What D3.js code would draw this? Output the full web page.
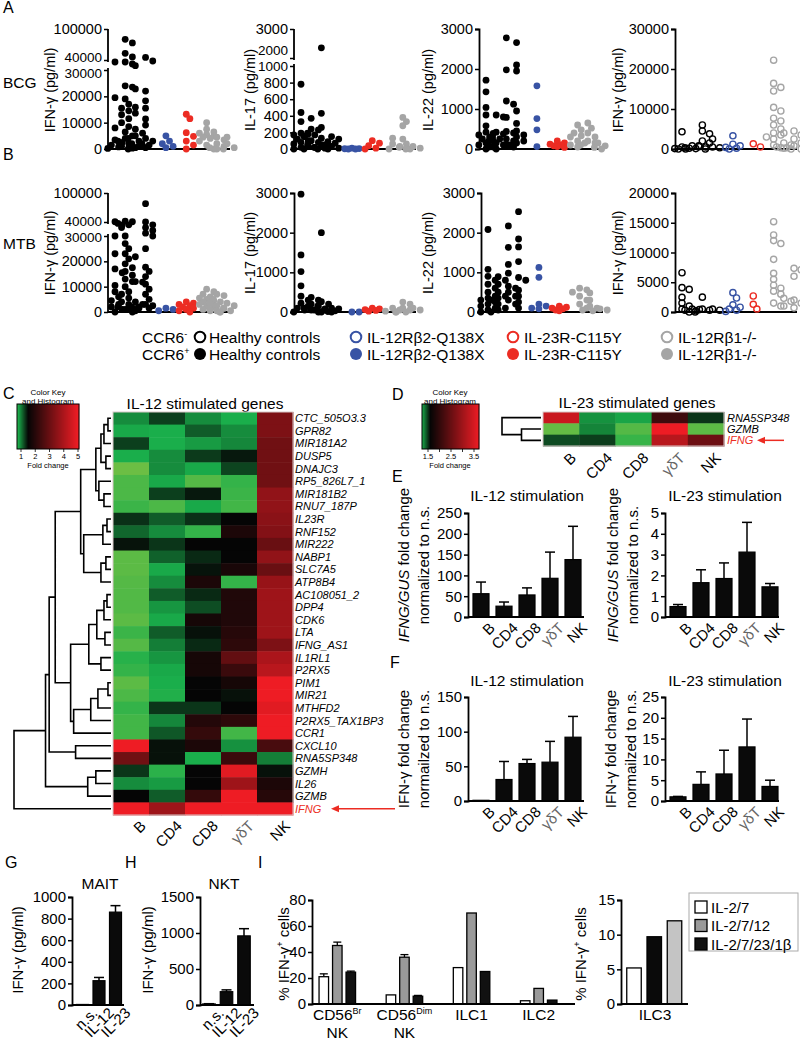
<!DOCTYPE html>
<html><head><meta charset="utf-8">
<script src="https://cdn.jsdelivr.net/npm/d3@7/dist/d3.min.js"></script>
<style>html,body{margin:0;padding:0;background:#fff;}</style>
</head><body>
<script>
// ================= DATA =================
const scatterGroups = ["h1","h2","h3","h4","blue","red","g1","g2","g3"];
const slotOrder = ["h1","h2","h3","h4","s1","blue","s2","red","s3","g1","g2","g3"];
const groupColors = ["#000000","#000000","#000000","#000000","#3853a4","#ec2c23","#a5a5a5","#a5a5a5","#a5a5a5"];

const bcgIFNg = [
  [38000,19500,8000,3500,2500,1500,800,200],
  [80000,73000,53000,46000,38000,36000,24000,23500,19000,17000,15500,14500,13000,11500,10000,8500,6500,5000,4000,3000,2000,1000,300],
  [34300,22800,15900,13600,7500,6000,5000,4000,3000,2000,1000,500,0],
  [45000,39000,22000,18300,15500,11400,9100,4000,3000,2000,1500,1000,500],
  [5000,3000,2000,1000,500],
  [13200,11500,6200,4800,3000,1500,0],
  [10000,7500,6500,6000,5500,5000,4500,4000,3000,1500,0],
  [4500,3500,2000,1000,500,0],
  [4500,2000,500,0]
];
const bcgIL17 = [
  [780,440,330,190,180,170,150,120,100,80,60,40,20,0],
  [370,240,230,190,170,150,100,80,50,20,0],
  [2350,430,260,130,50,30,20,10,0],
  [150,120,90,70,50,30,10,0],
  [10,5,3,0,0],
  [100,70,40,10,0],
  [130,60,30,0],
  [380,330,280,120,60,20,0],
  [30,10,0]
];
const bcgIL22 = [
  [1720,1430,1040,850,580,420,390,350,300,250,200,150,100,50,0],
  [850,800,420,380,300,250,200,150,100,50,0],
  [2780,1980,1200,1120,790,440,400,250,200,100,50],
  [2660,2100,1950,950,640,450,350,300,200,150,100],
  [1580,760,480,60],
  [200,150,120,100,80,60,40],
  [600,480,400,330,300,200,150,100,50],
  [650,520,400,300,200,150,100],
  [150,80,40,0]
];
const bcgIFNgNeg = [
  [4300,500,200,100,0,0],
  [800,600,300,100],
  [6000,4500,3800,2000,1500,800,500],
  [2500,500,300,0],
  [3300,1200,800,400,200,0],
  [1300,500],
  [22200,16400,15400,14500,10400,9500,7700,7000,6000,5000,4000,3500,3000,2500,1000,300],
  [4000,1500,1000,500,200,0],
  [4500,3500,2500,1500,800,300,0]
];
const mtbIFNg = [
  [40500,38000,30000,23000,17000,15500,10500,8000,6000,4500,3000,2000,1000,0],
  [42000,40500,39000,38000,36000,30000,27000,25000,23000,21000,19000,17500,16000,14500,13000,12000,10000,8000,7000,5500,4000,3000,2000,1000,0],
  [21800,12000,11800,4000,3000,2000,1500,1000,500],
  [78000,40000,38000,36000,34000,32000,30000,25000,17700,16000,14000,11000,9000,7000,5000,3000,2500,2000,1500],
  [1500,1000,500],
  [4000,3500,3000,2500,2000,1500,1000,500,0],
  [9000,8000,7000,6000,5500,5000,4500,4000,3500,3000,2500,2000,1000,500],
  [7000,6500,5000,4000,3500,2500,1500,1000,500,0],
  [3500,2500,1500,500,0]
];
const mtbIL17 = [
  [2970,1440,1020,660,400,300,220,150,100,50,0],
  [370,300,200,150,100,50,0],
  [2000,260,200,150,80,50,0],
  [100,80,50,30,10,0],
  [0,0],
  [100,80,60,40,20],
  [100,50,20,0],
  [250,200,100,50,0],
  [100,50,0]
];
const mtbIL22 = [
  [2080,1075,900,800,700,600,500,400,350,300,250,200,150,100,50,0],
  [890,800,700,500,400,350,300,200,100,50,0],
  [2170,1630,1200,980,650,600,500,400,300,200],
  [2530,1840,1640,1270,870,800,550,400,250,100],
  [1125,875,200,150,100,80],
  [150,120,100,80,50,30],
  [600,560,500,400,300,200,100],
  [480,300,150,100,50],
  [80,50,30]
];
const mtbIFNgNeg = [
  [6600,4090,3800,2460,1500,1000,500,0],
  [500,400,300,200],
  [2500,500,300,0],
  [500,300],
  [3250,2350,1200,800,500,300,100],
  [2690,1290,500],
  [15180,12940,12000,11500,8850,6500,5500,4500,4000,3500,3000,1500,1000],
  [2300,1800,1000],
  [7340,7100,6000,2000,1500,700]
];
const ticksIFNgBreak = [0,10000,20000,30000,40000,100000];
const ticksIL17Break = [0,200,400,600,800,1000,2000,3000];
const ticks3000 = [0,1000,2000,3000];
const ticks30000 = [0,10000,20000,30000];
const ticks20000 = [0,5000,10000,15000,20000];

const legendLabels = ["Healthy controls","IL-12Rβ2-Q138X","IL-23R-C115Y","IL-12Rβ1-/-"];
const legendColors = ["#000000","#3853a4","#ec2c23","#a5a5a5"];

const heatCols = ["B","CD4","CD8","γδT","NK"];
const genesC = ["CTC_505O3.3","GPR82","MIR181A2","DUSP5","DNAJC3","RP5_826L7_1","MIR181B2","RNU7_187P","IL23R","RNF152","MIR222","NABP1","SLC7A5","ATP8B4","AC108051_2","DPP4","CDK6","LTA","IFNG_AS1","IL1RL1","P2RX5","PIM1","MIR21","MTHFD2","P2RX5_TAX1BP3","CCR1","CXCL10","RNA5SP348","GZMH","IL26","GZMB","IFNG"];
const heatB   = [0.94,0.82,1.26,0.8,0.55,0.65,0.65,0.7,1.32,1.1,1.44,0.6,0.6,0.62,0.63,0.63,0.6,0.7,0.62,0.76,0.72,0.6,0.65,0.72,0.68,0.68,5,3.1,1.3,0.94,1.5,5];
const heatCD4 = [1.26,0.8,0.8,0.94,0.94,0.82,1.26,0.65,1.14,0.94,1.3,1.12,0.82,0.94,1.14,0.9,0.82,1.14,1.0,0.9,0.82,0.8,0.78,1.3,0.96,1.16,1.45,1.45,0.75,0.88,1.14,3.8];
const heatCD8 = [0.94,1.14,0.88,1.28,0.82,0.62,1.42,0.82,1.32,0.72,1.5,1.35,1.44,1.85,1.35,1.2,1.75,1.45,1.35,1.75,1.75,1.5,1.5,1.3,1.95,2.2,1.85,0.8,1.5,1.5,2.2,5];
const heatGD  = [0.8,0.94,0.96,1.42,1.24,0.72,0.7,0.68,1.5,1.85,1.5,1.5,1.8,0.72,1.9,1.9,1.9,2.0,2.1,2.9,2.3,1.75,1.45,1.5,2.1,0.68,0.92,2.3,4.8,3.8,5,5];
const heatNK  = [3.3,3.3,3.1,3.1,3.1,3.1,3.6,3.6,3.5,3.4,3.0,3.6,3.0,3.7,3.8,3.8,3.8,3.8,3.3,4.0,4.2,5,5,4.8,5,5,2.5,1.0,1.45,1.85,2.0,5];
// dendrogram: [merge distance, left, right]; leaves are row indices
const dendroC = [8.0,
  [5.4,
    [5.1,
      [4.6,
        [2.5,
          [1.25,
            [0.83, [0.58, [0.25, 0, 1], 2], [0.42, 3, 4]],
            [1.0, 5, [0.58, 6, 7]]],
          [2.25,
            [0.67, [0.33, 8, 9], 10],
            [0.83, [0.42, 11, 12], 13]]],
        [3.33,
          [1.83,
            [1.17, [0.58, [0.33, 14, 15], 16], [0.5, 17, 18]],
            [0.83, 19, 20]],
          [3.08,
            [1.67, [1.08, [0.25, 21, 22], 23], 24],
            25]]],
      [2.92, 26, 27]],
    [1.92, [1.25, 28, 29], 30]],
  31];
const keyTicksC = [1,2,3,4,5];

const genesD = ["RNA5SP348","GZMB","IFNG"];
const heatDB   = [3.38,1.06,1.45];
const heatDCD4 = [1.3,1.33,1.48];
const heatDCD8 = [1.26,1.1,1.17];
const heatDGD  = [2.13,3.72,3.23];
const heatDNK  = [1.5,1.08,2.55];
const dendroD = [1.6, 0, [0.8, 1, 2]];
const keyTicksD = [1.5,2,2.5,3,3.5];
const keyLabelsD = [1.5,2.5,3.5];

const barCats = ["B","CD4","CD8","γδT","NK"];
const e12Vals = [56,26,53,93,138];   const e12Sem = [28,10,17,63,80];
const e23Vals = [0.5,1.65,1.85,3.12,1.45]; const e23Sem = [0.1,0.62,0.75,1.43,0.16];
const f12Vals = [1,31,54,56,92];     const f12Sem = [0,26,6,30,30];
const f23Vals = [1,4,6.5,13,3.5];    const f23Sem = [0.1,3,5.7,6.7,1.5];
const e12Ticks = [0,50,100,150,200,250];
const e23Ticks = [0,1,2,3,4,5];
const f12Ticks = [0,50,100,150];
const f23Ticks = [0,5,10,15,20,25];

const ghCats = ["n.s.","IL-12","IL-23"];
const maitVals = [5,225,860]; const maitSem = [0,30,60];
const nktVals = [15,185,960]; const nktSem = [3,25,100];
const maitTicks = [0,200,400,600,800,1000];
const nktTicks = [0,500,1000,1500];

const iCats = ["CD56Br NK","CD56Dim NK","ILC1","ILC2"];
const iCatMain = ["CD56","CD56","ILC1","ILC2"];
const iCatSup = ["Br","Dim","",""];
const iCatLine2 = ["NK","NK","",""];
const iSeries = ["IL-2/7","IL-2/7/12","IL-2/7/23/1β"];
const iSeriesFill = ["#ffffff","#9a9a9a","#111111"];
const iIL27 = [21,7,28,2.5];      const iIL27Sem = [2.2,0,0,0];
const iIL2712 = [45,36,70,12];    const iIL2712Sem = [2.6,2,0,0];
const iIL2723 = [24.5,6,25,3];    const iIL2723Sem = [0.8,0.6,0,0];
const iTicks = [0,20,40,60,80];
const ilc3Vals = [5.2,9.7,12];
const ilc3Fill = ["#ffffff","#0a0a0a","#c4c4c4"];
const ilc3Ticks = [0,5,10,15];

// ================= DRAWING =================
const FONT = "'Liberation Sans', Arial, Helvetica, sans-serif";
const svg = d3.select("body").append("svg").attr("width",800).attr("height",1040)
  .attr("font-family",FONT).style("display","block");

function addText(x,y,s,size,o={}) {
  const t = svg.append("text").attr("x",x).attr("y",y).attr("font-size",size).attr("fill",o.fill||"#000").text(s);
  if (o.anchor) t.attr("text-anchor",o.anchor);
  if (o.italic) t.attr("font-style","italic");
  return t;
}
function vText(cx,cy,size) {
  return svg.append("text").attr("transform",`translate(${cx},${cy}) rotate(-90)`)
    .attr("text-anchor","middle").attr("dy","0.35em").attr("font-size",size);
}
function styleAxis(g,size) {
  g.attr("font-family",null).attr("font-size",null);
  g.selectAll("text").attr("font-size",size).attr("fill","#000").attr("font-family",FONT);
  g.select(".domain").attr("stroke","#000").attr("stroke-width",1.8);
  g.selectAll(".tick line").attr("stroke","#000").attr("stroke-width",1.5);
}

// panel letters
[["A",3,13],["B",3,160],["C",3,399],["D",392,400],["E",392,482],["F",390,668],["G",5,868],["H",125,868],["I",258,868]]
  .forEach(([s,x,y]) => addText(x,y,s,16));
addText(3,88,"BCG",15.5);
addText(3,249,"MTB",15.5);

// ---- scatter panels ----
function swarm(values,y,cx) {
  const placed = [];
  const offs = [0,3.6,-3.6,7.2,-7.2];
  return values.slice().sort((a,b)=>b-a).map(v => {
    const py = y(v);
    let best = 0, bestD = -1;
    for (const o of offs) {
      let md = Infinity;
      for (const p of placed) { const d = Math.hypot(p.x-(cx+o), p.y-py); if (d < md) md = d; }
      if (md >= 5.4) { best = o; break; }
      if (md > bestD) { bestD = md; best = o; }
    }
    const pt = {x:cx+best, y:py};
    placed.push(pt);
    return pt;
  });
}
const scatterPanels = [
  {data:bcgIFNg, ax:108, dom:[0,30000,40000,100000], rng:[149,70,60,29], ticks:ticksIFNgBreak, brk:[57,73], label:"IFN-γ (pg/ml)", lx:50, ly:90},
  {data:bcgIL17, ax:294, dom:[0,1000,2000,3000], rng:[149,66,58,29], ticks:ticksIL17Break, brk:[50,66.5], label:"IL-17 (pg/ml)", lx:250, ly:90},
  {data:bcgIL22, ax:479, dom:[0,3000], rng:[149,29], ticks:ticks3000, label:"IL-22 (pg/ml)", lx:428, ly:90},
  {data:bcgIFNgNeg, ax:675, dom:[0,30000], rng:[149,29], ticks:ticks30000, open:true, label:"IFN-γ (pg/ml)", lx:618, ly:90},
  {data:mtbIFNg, ax:108, dom:[0,30000,40000,100000], rng:[312,236,222,193], ticks:ticksIFNgBreak, brk:[221,237], label:"IFN-γ (pg/ml)", lx:50, ly:253},
  {data:mtbIL17, ax:294, dom:[0,3000], rng:[312,193], ticks:ticks3000, label:"IL-17 (pg/ml)", lx:250, ly:253},
  {data:mtbIL22, ax:481, dom:[0,3000], rng:[312,193], ticks:ticks3000, label:"IL-22 (pg/ml)", lx:428, ly:253},
  {data:mtbIFNgNeg, ax:675, dom:[0,20000], rng:[312,193], ticks:ticks20000, open:true, label:"IFN-γ (pg/ml)", lx:618, ly:253}
];
scatterPanels.forEach(p => {
  const y = d3.scaleLinear().domain(p.dom).range(p.rng);
  const x = d3.scalePoint().domain(slotOrder).range([p.ax+7, p.ax+119]);
  const ag = svg.append("g").attr("transform",`translate(${p.ax},0)`)
    .call(d3.axisLeft(y).tickValues(p.ticks).tickSize(4).tickPadding(2).tickFormat(d3.format("d")));
  styleAxis(ag,14.5);
  if (p.brk) {
    ag.select(".domain").remove();
    const n = p.rng.length;
    svg.append("line").attr("x1",p.ax).attr("x2",p.ax).attr("y1",p.rng[n-1]).attr("y2",p.rng[2]+2).attr("stroke","#000").attr("stroke-width",1.8);
    svg.append("line").attr("x1",p.ax).attr("x2",p.ax).attr("y1",p.rng[1]-2).attr("y2",p.rng[0]).attr("stroke","#000").attr("stroke-width",1.8);
    // keep the two labels at the break readable
    ag.selectAll(".tick").each(function(d) {
      if (d === p.dom[2]) d3.select(this).select("text").attr("y", p.brk[0] - y(d)).attr("font-size",13.5);
      if (d === p.dom[1]) d3.select(this).select("text").attr("y", p.brk[1] - y(d)).attr("font-size",13.5);
    });
  }
  svg.append("line").attr("x1",p.ax).attr("x2",p.ax+122).attr("y1",p.rng[0]).attr("y2",p.rng[0]).attr("stroke","#000").attr("stroke-width",1.8);
  vText(p.lx,p.ly,14.5).text(p.label);
  scatterGroups.forEach((gk,i) => {
    const pts = swarm(p.data[i], y, x(gk));
    svg.append("g").selectAll("circle").data(pts).join("circle")
      .attr("cx",d=>d.x).attr("cy",d=>d.y)
      .attr("r", p.open ? 3.1 : 3.4)
      .attr("fill", p.open ? "none" : groupColors[i])
      .attr("stroke", p.open ? groupColors[i] : "none")
      .attr("stroke-width", 1.4);
  });
});

// ---- top legend ----
[[337,true],[354,false]].forEach(([cy,open]) => {
  const t = svg.append("text").attr("x",142).attr("y",cy+5.5).attr("font-size",15.5);
  t.append("tspan").text("CCR6");
  t.append("tspan").attr("font-size",9).attr("dy",-6).text(open ? "-" : "+");
  const cxs = [200,356,513,667];
  legendLabels.forEach((lab,i) => {
    svg.append("circle").attr("cx",cxs[i]).attr("cy",cy).attr("r",open?5.3:6)
      .attr("fill",open?"none":legendColors[i]).attr("stroke",open?legendColors[i]:"none").attr("stroke-width",2);
    addText(cxs[i]+(i===0?9:11),cy+5.5,lab,15.5);
  });
});

// ---- heatmap helpers ----
function drawDendro(tree,yOf,xs) {
  const path = d3.path();
  function rec(n) {
    if (typeof n === "number") return {x:xs(0), y:yOf(n)};
    const A = rec(n[1]), B = rec(n[2]);
    const x = xs(n[0]);
    path.moveTo(A.x,A.y); path.lineTo(x,A.y); path.lineTo(x,B.y); path.lineTo(B.x,B.y);
    return {x, y:(A.y+B.y)/2};
  }
  rec(tree);
  svg.append("path").attr("d",path.toString()).attr("fill","none").attr("stroke","#000").attr("stroke-width",1.6);
}
function drawKey(x0,x1,y0,y1,keyX,color,ticks,labels,cx) {
  addText(cx,395,"Color Key",8,{anchor:"middle"});
  addText(cx,404,"and Histogram",8,{anchor:"middle"});
  for (let px=x0; px<x1; px++) {
    svg.append("rect").attr("x",px).attr("y",y0).attr("width",1.2).attr("height",y1-y0).attr("fill",color(keyX.invert(px+0.5)));
  }
  svg.append("rect").attr("x",x0).attr("y",y0).attr("width",x1-x0).attr("height",y1-y0).attr("fill","none").attr("stroke","#000").attr("stroke-width",1);
  ticks.forEach(v => svg.append("line").attr("x1",keyX(v)).attr("x2",keyX(v)).attr("y1",y1).attr("y2",y1+3).attr("stroke","#000").attr("stroke-width",0.8));
  labels.forEach(v => addText(keyX(v),459,String(v),7.5,{anchor:"middle"}));
  addText(cx,468,"Fold change",7.5,{anchor:"middle"});
}
function arrow(x1,x2,y) {
  svg.append("line").attr("x1",x1).attr("x2",x2+6).attr("y1",y).attr("y2",y).attr("stroke","#ec2c23").attr("stroke-width",1.5);
  svg.append("path").attr("d",`M${x2},${y} L${x2+8},${y-3.5} L${x2+8},${y+3.5} Z`).attr("fill","#ec2c23");
}
function colLabels(xScale,yTop) {
  heatCols.forEach(c => {
    svg.append("text").attr("transform",`translate(${xScale(c)+xScale.bandwidth()/2+8},${yTop}) rotate(-45)`)
      .attr("text-anchor","end").attr("dy","0.75em").attr("font-size",15)
      .attr("fill", c==="γδT" ? "#666" : "#000").text(c);
  });
}

// ---- Panel C ----
const colorC = d3.scaleLinear().domain([0.5,0.8,1.5,5]).range(["#7dc142","#1aae4b","#050505","#ee1c24"]).clamp(true);
const keyXC = d3.scaleLinear().domain([1,5]).range([21,78]);
drawKey(17,79,404,449,keyXC,colorC,keyTicksC,keyTicksC,48);
addText(205,409,"IL-12 stimulated genes",15.5,{anchor:"middle"});
const xC = d3.scaleBand().domain(heatCols).range([113,293]);
const yC = d3.scaleBand().domain(genesC).range([412,815]);
const heatCData = [heatB,heatCD4,heatCD8,heatGD,heatNK];
heatCols.forEach((c,j) => {
  genesC.forEach((g,i) => {
    svg.append("rect").attr("x",xC(c)).attr("y",yC(g)).attr("width",xC.bandwidth()+0.5).attr("height",yC.bandwidth()+0.5)
      .attr("fill",colorC(heatCData[j][i]));
  });
});
svg.append("rect").attr("x",113).attr("y",412).attr("width",180).attr("height",403).attr("fill","none").attr("stroke","#d8c8c8").attr("stroke-width",1);
genesC.forEach(g => {
  addText(295,yC(g)+yC.bandwidth()/2+4,g,11,{italic:true,fill:g==="IFNG"?"#ec2c23":"#000"});
});
arrow(395,331,yC("IFNG")+yC.bandwidth()/2);
drawDendro(dendroC, i => yC(genesC[i])+yC.bandwidth()/2, d3.scaleLinear().domain([0,8]).range([111,14]));
colLabels(xC,819);

// ---- Panel D ----
const colorD = d3.scaleLinear().domain([1.0,1.24,1.6,3.72]).range(["#7dc142","#1aae4b","#050505","#ee1c24"]).clamp(true);
const keyXD = d3.scaleLinear().domain([1.5,3.5]).range([428,474]);
drawKey(422,479,404,449,keyXD,colorD,keyTicksD,keyLabelsD,450);
addText(637,408,"IL-23 stimulated genes",15.5,{anchor:"middle"});
const xD = d3.scaleBand().domain(heatCols).range([543,724]);
const yD = d3.scaleBand().domain(genesD).range([412,446]);
const heatDData = [heatDB,heatDCD4,heatDCD8,heatDGD,heatDNK];
heatCols.forEach((c,j) => {
  genesD.forEach((g,i) => {
    svg.append("rect").attr("x",xD(c)).attr("y",yD(g)).attr("width",xD.bandwidth()+0.5).attr("height",yD.bandwidth()+0.5)
      .attr("fill",colorD(heatDData[j][i]));
  });
});
svg.append("rect").attr("x",543).attr("y",412).attr("width",181).attr("height",34).attr("fill","none").attr("stroke","#d8c8c8").attr("stroke-width",1);
genesD.forEach(g => addText(727,yD(g)+yD.bandwidth()/2+4,g,11,{italic:true,fill:g==="IFNG"?"#ec2c23":"#000"}));
arrow(784,757,yD("IFNG")+yD.bandwidth()/2);
drawDendro(dendroD, i => yD(genesD[i])+yD.bandwidth()/2, d3.scaleLinear().domain([0,1.6]).range([541,502]));
colLabels(xD,451);

// ---- bar charts ----
function drawBars(o) {
  const y = d3.scaleLinear().domain([0,o.max]).range([o.y0,o.y1]);
  const x = d3.scalePoint().domain(o.cats).range([o.ax+o.first, o.ax+o.first+o.step*(o.cats.length-1)]);
  o.cats.forEach((c,i) => {
    const v = o.vals[i], e = o.sems[i], cx = x(c);
    if (e > 0) {
      svg.append("line").attr("x1",cx).attr("x2",cx).attr("y1",y(v)).attr("y2",y(v+e)).attr("stroke","#000").attr("stroke-width",1.5);
      svg.append("line").attr("x1",cx-o.cap/2).attr("x2",cx+o.cap/2).attr("y1",y(v+e)).attr("y2",y(v+e)).attr("stroke","#000").attr("stroke-width",1.5);
    }
    svg.append("rect").attr("x",cx-o.bw/2).attr("y",y(v)).attr("width",o.bw).attr("height",o.y0-y(v))
      .attr("fill",o.fill||"#0a0a0a").attr("stroke","#000").attr("stroke-width",1.2);
  });
  const ag = svg.append("g").attr("transform",`translate(${o.ax},0)`)
    .call(d3.axisLeft(y).tickValues(o.ticks).tickSize(4).tickPadding(2).tickFormat(d3.format("d")));
  styleAxis(ag,15);
  svg.append("line").attr("x1",o.ax).attr("x2",o.end).attr("y1",o.y0).attr("y2",o.y0).attr("stroke","#000").attr("stroke-width",1.8);
  o.cats.forEach(c => {
    svg.append("text").attr("transform",`translate(${x(c)+o.lx},${o.y0+o.ly}) rotate(-45)`)
      .attr("text-anchor","end").attr("dy","0.75em").attr("font-size",15)
      .attr("fill", c==="γδT" ? "#666" : "#000").text(c);
  });
  if (o.title) addText(o.tx,o.ty,o.title,15.5,{anchor:"middle"});
}
function foldLabel(x1,x2,cy,italicPart,rest,line2) {
  const t = vText(x1,cy,15);
  if (italicPart) t.append("tspan").attr("font-style","italic").text(italicPart);
  t.append("tspan").text(rest);
  vText(x2,cy,15).text(line2);
}
drawBars({cats:barCats, vals:e12Vals, sems:e12Sem, max:250, ticks:e12Ticks, ax:468, y0:617, y1:513, first:13, step:23, bw:16, cap:10, end:584, lx:7, ly:4, title:"IL-12 stimulation", tx:527, ty:501});
drawBars({cats:barCats, vals:e23Vals, sems:e23Sem, max:5, ticks:e23Ticks, ax:665, y0:617, y1:513, first:13, step:23, bw:16, cap:10, end:779, lx:7, ly:4, title:"IL-23 stimulation", tx:725, ty:501});
drawBars({cats:barCats, vals:f12Vals, sems:f12Sem, max:150, ticks:f12Ticks, ax:468, y0:801, y1:697, first:13, step:23, bw:16, cap:10, end:584, lx:7, ly:4, title:"IL-12 stimulation", tx:527, ty:686});
drawBars({cats:barCats, vals:f23Vals, sems:f23Sem, max:25, ticks:f23Ticks, ax:665, y0:801, y1:697, first:13, step:23, bw:16, cap:10, end:779, lx:7, ly:4, title:"IL-23 stimulation", tx:725, ty:686});
foldLabel(404,424,565,"IFNG/GUS"," fold change","normalized to n.s.");
foldLabel(613,633,565,"IFNG/GUS"," fold change","normalized to n.s.");
foldLabel(404,424,749,null,"IFN-γ fold change","normailzed to n.s.");
foldLabel(611,631,749,null,"IFN-γ fold change","normailzed to n.s.");

// ---- G & H ----
drawBars({cats:ghCats, vals:maitVals, sems:maitSem, max:1000, ticks:maitTicks, ax:72, y0:1005, y1:897, first:10.5, step:16.5, bw:12, cap:10, end:124, lx:8, ly:1, title:"MAIT", tx:100, ty:889});
drawBars({cats:ghCats, vals:nktVals, sems:nktSem, max:1500, ticks:nktTicks, ax:200, y0:1005, y1:897, first:9, step:17.5, bw:12.5, cap:10, end:254, lx:8, ly:1, title:"NKT", tx:224, ty:889});
vText(18,950,15).text("IFN-γ (pg/ml)");
vText(148,950,15).text("IFN-γ (pg/ml)");

// ---- I ----
function pctLabel(cx,cy) {
  const t = vText(cx,cy,15);
  t.append("tspan").text("% IFN-γ");
  t.append("tspan").attr("font-size",9).attr("dy",-6).text("+");
  t.append("tspan").attr("dy",6).text(" cells");
}
{
  const y = d3.scaleLinear().domain([0,80]).range([1004,900]);
  const xg = d3.scalePoint().domain(iCats).range([337.3,538.7]);
  const xs = d3.scalePoint().domain(iSeries).range([-13.5,13.5]);
  const vals = [iIL27,iIL2712,iIL2723], sems = [iIL27Sem,iIL2712Sem,iIL2723Sem];
  iCats.forEach((c,i) => {
    iSeries.forEach((s,k) => {
      const cx = xg(c)+xs(s), v = vals[k][i], e = sems[k][i];
      if (e > 0) {
        svg.append("line").attr("x1",cx).attr("x2",cx).attr("y1",y(v)).attr("y2",y(v+e)).attr("stroke","#000").attr("stroke-width",1.3);
        svg.append("line").attr("x1",cx-4).attr("x2",cx+4).attr("y1",y(v+e)).attr("y2",y(v+e)).attr("stroke","#000").attr("stroke-width",1.3);
      }
      svg.append("rect").attr("x",cx-4.75).attr("y",y(v)).attr("width",9.5).attr("height",1004-y(v))
        .attr("fill",iSeriesFill[k]).attr("stroke","#000").attr("stroke-width",1.3);
    });
    const t = svg.append("text").attr("x",xg(c)).attr("y",1020).attr("text-anchor","middle").attr("font-size",15.5);
    t.append("tspan").text(iCatMain[i]);
    if (iCatSup[i]) t.append("tspan").attr("font-size",9).attr("dy",-6).text(iCatSup[i]);
    if (iCatLine2[i]) addText(xg(c),1038,iCatLine2[i],15.5,{anchor:"middle"});
  });
  const ag = svg.append("g").attr("transform","translate(312,0)").call(d3.axisLeft(y).tickValues(iTicks).tickSize(4).tickPadding(2));
  styleAxis(ag,15);
  svg.append("line").attr("x1",312).attr("x2",575).attr("y1",1004).attr("y2",1004).attr("stroke","#000").attr("stroke-width",1.8);
  pctLabel(284,954);

  const y2 = d3.scaleLinear().domain([0,15]).range([1004,900]);
  const x2 = d3.scalePoint().domain(iSeries).range([634,674.5]);
  iSeries.forEach((s,k) => {
    svg.append("rect").attr("x",x2(s)-7.25).attr("y",y2(ilc3Vals[k])).attr("width",14.5).attr("height",1004-y2(ilc3Vals[k]))
      .attr("fill",ilc3Fill[k]).attr("stroke","#000").attr("stroke-width",1.3);
  });
  const ag2 = svg.append("g").attr("transform","translate(621,0)").call(d3.axisLeft(y2).tickValues(ilc3Ticks).tickSize(4).tickPadding(2));
  styleAxis(ag2,15);
  svg.append("line").attr("x1",621).attr("x2",688).attr("y1",1004).attr("y2",1004).attr("stroke","#000").attr("stroke-width",1.8);
  addText(655,1020,"ILC3",15.5,{anchor:"middle"});
  pctLabel(581,954);

  svg.append("rect").attr("x",689).attr("y",893).attr("width",109).attr("height",58).attr("fill","#fff").attr("stroke","#aaa").attr("stroke-width",1);
  iSeries.forEach((s,k) => {
    const cy = 907 + k*18.5;
    svg.append("rect").attr("x",695).attr("y",cy-6).attr("width",12).attr("height",12).attr("fill",iSeriesFill[k]).attr("stroke","#000").attr("stroke-width",1.3);
    addText(711,cy+5.5,s,15);
  });
}
</script>
</body></html>
